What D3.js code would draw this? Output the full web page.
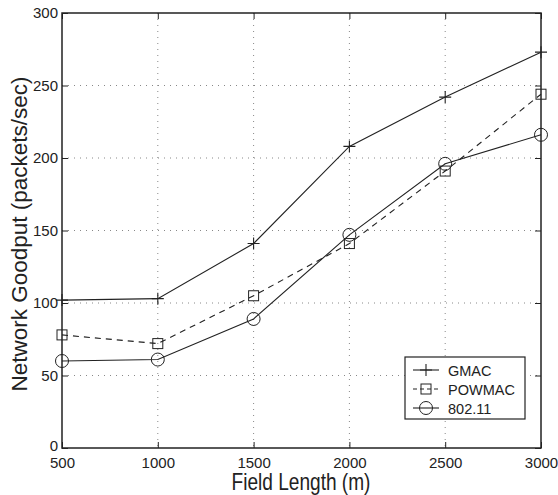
<!DOCTYPE html>
<html><head><meta charset="utf-8">
<script src="https://cdn.jsdelivr.net/npm/d3@7"></script>
<style>body{margin:0;background:#fff}svg{display:block}text{font-family:"Liberation Sans",Arial,sans-serif;fill:#222}</style>
</head><body><svg id="c" width="558" height="495"></svg>
<script>
const fieldLengths = [500, 1000, 1500, 2000, 2500, 3000];
const gmac = [102, 103, 141, 208, 242, 273];
const powmac = [78, 72, 105, 141, 191, 244];
const ieee80211 = [60, 61, 89, 147, 196, 216];
const xTicks = [500, 1000, 1500, 2000, 2500, 3000];
const yTicks = [0, 50, 100, 150, 200, 250, 300];
const seriesNames = ["GMAC", "POWMAC", "802.11"];

const svg = d3.select("#c");
const L = 62, R = 541, T = 13, B = 448;
const x = d3.scaleLinear().domain([500, 3000]).range([L, R]);
const y = d3.scaleLinear().domain([0, 300]).range([B, T]);

// grid
const g = svg.append("g");
g.selectAll(".gx").data(xTicks.slice(1, -1)).enter().append("line")
  .attr("x1", d => x(d)).attr("x2", d => x(d)).attr("y1", T).attr("y2", B)
  .attr("stroke", "#888").attr("stroke-width", 1).attr("stroke-dasharray", "1,5");
g.selectAll(".gy").data(yTicks.slice(1, -1)).enter().append("line")
  .attr("y1", d => y(d)).attr("y2", d => y(d)).attr("x1", L).attr("x2", R)
  .attr("stroke", "#888").attr("stroke-width", 1).attr("stroke-dasharray", "1,5");

// axes
const ax = d3.axisBottom(x).tickValues(xTicks).tickSize(-6).tickPadding(9).tickFormat(d3.format("d"));
const ay = d3.axisLeft(y).tickValues(yTicks).tickSize(-6).tickPadding(4).tickFormat(d3.format("d"));
const ax2 = d3.axisTop(x).tickValues(xTicks).tickSize(-6).tickFormat("");
const ay2 = d3.axisRight(y).tickValues(yTicks).tickSize(-6).tickFormat("");
function style(sel){ sel.select(".domain").remove(); sel.selectAll("line").attr("stroke","#222"); sel.selectAll("text").attr("font-size",15).attr("fill","#222").style("font-family","Liberation Sans, Arial, sans-serif"); }
svg.append("g").attr("transform",`translate(0,${B})`).call(ax).call(style);
const gy = svg.append("g").attr("transform",`translate(${L},0)`).call(ay).call(style);
gy.selectAll(".tick text").filter(d => d === 0).attr("dy", "0.15em");
svg.append("g").attr("transform",`translate(0,${T})`).call(ax2).call(style);
svg.append("g").attr("transform",`translate(${R},0)`).call(ay2).call(style);
svg.append("rect").attr("x",L).attr("y",T).attr("width",R-L).attr("height",B-T).attr("fill","none").attr("stroke","#222").attr("stroke-width",1.5);

// series
const line = d3.line().x((d,i)=>x(fieldLengths[i])).y(d=>y(d));
const col = "#222";
function plus(sel, cx, cy, s){ sel.append("path").attr("d",`M${cx-s},${cy}H${cx+s}M${cx},${cy-s}V${cy+s}`).attr("stroke",col).attr("stroke-width",1.1).attr("fill","none"); }
function square(sel, cx, cy, s){ sel.append("rect").attr("x",cx-s).attr("y",cy-s).attr("width",2*s).attr("height",2*s).attr("stroke",col).attr("stroke-width",1).attr("fill","none"); }
function circle(sel, cx, cy, r){ sel.append("circle").attr("cx",cx).attr("cy",cy).attr("r",r).attr("stroke",col).attr("stroke-width",1).attr("fill","none"); }

const series = [
  {name: seriesNames[0], vals: gmac, dash: null, mark: (s,cx,cy)=>plus(s,cx,cy,6)},
  {name: seriesNames[1], vals: powmac, dash: "6,5", mark: (s,cx,cy)=>square(s,cx,cy,5)},
  {name: seriesNames[2], vals: ieee80211, dash: null, mark: (s,cx,cy)=>circle(s,cx,cy,6.5)}
];
series.forEach(s => {
  const sg = svg.append("g");
  sg.append("path").attr("d", line(s.vals)).attr("fill","none").attr("stroke",col).attr("stroke-width",1.1)
    .attr("stroke-dasharray", s.dash);
  s.vals.forEach((v,i)=>s.mark(sg, x(fieldLengths[i]), y(v)));
});

// legend
const lg = svg.append("g");
lg.append("rect").attr("x",405).attr("y",357).attr("width",120).attr("height",62).attr("fill","#fff").attr("stroke","#222").attr("stroke-width",1.2);
series.forEach((s,i)=>{
  const cy = 370 + i*19;
  lg.append("path").attr("d",`M413,${cy}H439`).attr("stroke",col).attr("stroke-width",1.1).attr("stroke-dasharray", s.dash ? "4,3" : null);
  s.mark(lg, 426, cy);
  lg.append("text").attr("x",448).attr("y",cy+5.5).attr("font-size",14.5).text(s.name);
});

// labels
svg.append("text").attr("transform","translate(301,490) scale(0.83,1)").attr("text-anchor","middle").attr("font-size",23).text("Field Length (m)");
svg.append("text").attr("transform","translate(27,234) rotate(-90)").attr("text-anchor","middle").attr("font-size",22.5).text("Network Goodput (packets/sec)");
</script></body></html>
